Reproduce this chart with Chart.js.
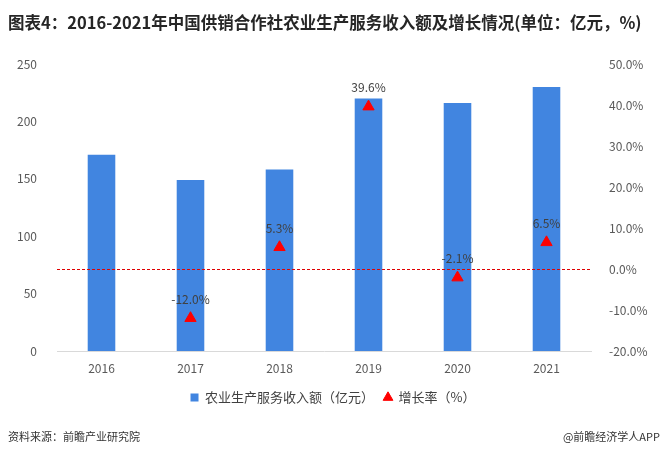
<!DOCTYPE html>
<html>
<head>
<meta charset="utf-8">
<script src="https://cdn.jsdelivr.net/npm/chart.js@4"></script>
<style>
  body { margin: 0; background: #fff; font-family: "Noto Sans CJK SC", sans-serif; }
  #wrap { position: relative; width: 666px; height: 457px; overflow: hidden; }
  #c { position: absolute; left: 0; top: 0; }
  #title { position: absolute; left: 8px; top: 10px; font-size: 16.5px; font-weight: bold; color: #262626; white-space: nowrap; }
  .foot { position: absolute; top: 428px; font-size: 11px; color: #333; white-space: nowrap; }
</style>
</head>
<body>
<div id="wrap">
  <canvas id="c" width="666" height="457"></canvas>
  <div id="title">图表4：2016-2021年中国供销合作社农业生产服务收入额及增长情况(单位：亿元，%)</div>
  <div class="foot" style="left:8px">资料来源：前瞻产业研究院</div>
  <div class="foot" style="right:6px">@前瞻经济学人APP</div>
</div>
<script>
(async function () {
  const years = ["2016", "2017", "2018", "2019", "2020", "2021"];
  const revenue = [171, 149, 158, 220, 216, 230];
  const growth = [null, -12.0, 5.3, 39.6, -2.1, 6.5];
  const fontName = "'Noto Sans CJK SC', sans-serif";

  // red dashed line at 0% + labels over the triangles
  const extras = {
    id: "extras",
    afterDatasetsDraw(chart) {
      const ctx = chart.ctx;
      const area = chart.chartArea;
      const y0 = Math.round(chart.scales.y1.getPixelForValue(0)) + 0.5;
      ctx.save();
      ctx.strokeStyle = "#E00000";
      ctx.lineWidth = 1;
      ctx.setLineDash([3, 2]);
      ctx.beginPath();
      ctx.moveTo(area.left, y0);
      ctx.lineTo(area.right, y0);
      ctx.stroke();
      ctx.setLineDash([]);

      chart.getDatasetMeta(1).data.forEach((pt, i) => {
        if (growth[i] == null) return;
        ctx.font = "12px " + fontName;
        ctx.fillStyle = "#404040";
        ctx.textAlign = "center";
        ctx.textBaseline = "middle";
        ctx.fillText(growth[i].toFixed(1) + "%", pt.x, pt.y - 19);
      });
      ctx.restore();
    }
  };

  new Chart(document.getElementById("c"), {
    type: "bar",
    data: {
      labels: years,
      datasets: [
        {
          label: "农业生产服务收入额（亿元）",
          data: revenue,
          backgroundColor: "#4185E0",
          yAxisID: "y",
          categoryPercentage: 1,
          barPercentage: 0.31,
          pointStyle: "rect",
          order: 1
        },
        {
          type: "line",
          label: "增长率（%）",
          data: growth,
          yAxisID: "y1",
          showLine: false,
          pointStyle: "triangle",
          pointRadius: 6.5,
          backgroundColor: "#FF0000",
          borderColor: "#FF0000",
          order: 0
        }
      ]
    },
    options: {
      responsive: false,
      animation: false,
      layout: { padding: { top: 64, bottom: 43, left: 0, right: 0 } },
      plugins: {
        tooltip: { enabled: false },
        legend: {
          position: "bottom",
          labels: {
            usePointStyle: true,
            boxWidth: 8,
            boxHeight: 8,
            padding: 10,
            color: "#404040",
            font: { size: 13, family: fontName },
            sort: (a, b) => a.datasetIndex - b.datasetIndex
          }
        }
      },
      scales: {
        x: {
          grid: { display: false, drawTicks: false },
          border: { display: true, color: "#D9D9D9" },
          ticks: { color: "#595959", padding: 10, font: { size: 12, family: fontName } },
          afterFit: (s) => { s.height = 30; }
        },
        y: {
          position: "left",
          min: 0,
          max: 250,
          ticks: { stepSize: 50, color: "#595959", padding: 12, font: { size: 12, family: fontName } },
          grid: { display: false },
          border: { display: false },
          afterFit: (s) => { s.width = 57; }
        },
        y1: {
          position: "right",
          min: -20,
          max: 50,
          ticks: {
            stepSize: 10,
            color: "#595959",
            padding: 10,
            font: { size: 12, family: fontName },
            callback: (v) => v.toFixed(1) + "%"
          },
          grid: { display: false },
          border: { display: false },
          afterFit: (s) => { s.width = 75; }
        }
      }
    },
    plugins: [extras]
  });
})();
</script>
</body>
</html>
